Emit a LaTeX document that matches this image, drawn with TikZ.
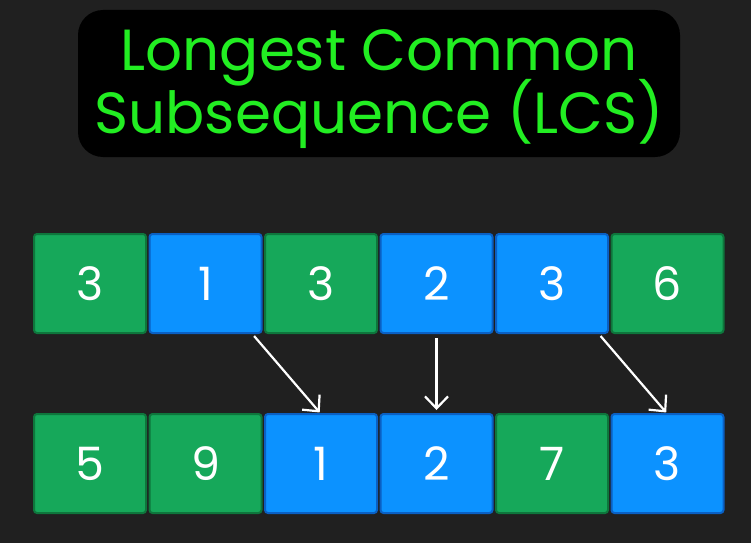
\documentclass[tikz,border=0pt]{standalone}
\usepackage{fontspec}
\setmainfont{Poppins}
\usetikzlibrary{positioning,arrows.meta}
\definecolor{LCSBack}{RGB}{32,32,32}
\definecolor{LCSTitle}{RGB}{34,238,34}
\definecolor{LCSGreen}{RGB}{22,168,90}
\definecolor{LCSGreenEdge}{RGB}{14,118,60}
\definecolor{LCSBlue}{RGB}{12,146,255}
\definecolor{LCSBlueEdge}{RGB}{10,96,196}
\newcommand{\lcstitlefont}{\fontsize{58}{63}\selectfont\lineskiplimit-60pt\relax}

\begin{document}
\begin{tikzpicture}[
x=1pt,y=-1pt,
node distance=3.5pt,
cell/.style={
rectangle,rounded corners=3pt,line width=2pt,outer sep=0pt,
minimum width=112pt,minimum height=99pt,
text=white,font=\fontsize{46}{46}\selectfont
},
gcell/.style={cell,draw=LCSGreenEdge,fill=LCSGreen},
bcell/.style={cell,draw=LCSBlueEdge,fill=LCSBlue},
arrow/.style={-{Straight Barb[length=12pt,width=23pt]},line width=2.2pt,draw=white}
]

\fill[LCSBack] (0,0) rectangle (751,543);
\useasboundingbox (0,0) rectangle (751,543);

\node[fill=black,rounded corners=25pt,minimum width=602pt,minimum height=147pt]
(title) at (379,83.5) {};
\node[text=LCSTitle,align=center,font=\lcstitlefont,anchor=base]
(titletext) at (379,133) {Longest Common\\Subsequence (LCS)};

% first sequence
\node[gcell] (t1) at (90,283.5) {3};
\node[bcell,right=of t1] (t2) {1};
\node[gcell,right=of t2] (t3) {3};
\node[bcell,right=of t3] (t4) {2};
\node[bcell,right=of t4] (t5) {3};
\node[gcell,right=of t5] (t6) {6};

% second sequence
\node[gcell,below=81pt of t1] (b1) {5};
\node[gcell,right=of b1] (b2) {9};
\node[bcell,right=of b2] (b3) {1};
\node[bcell,right=of b3] (b4) {2};
\node[gcell,right=of b4] (b5) {7};
\node[bcell,right=of b5] (b6) {3};

\draw[arrow,shorten <=4pt,shorten >=2pt] ([xshift=-10pt]t2.south east) -- (b3.north);
\draw[arrow,shorten <=5pt,shorten >=4pt] (t4.south) -- (b4.north);
\draw[arrow,shorten <=4pt,shorten >=2pt] ([xshift=-10pt]t5.south east) -- (b6.north);

\end{tikzpicture}
\end{document}
